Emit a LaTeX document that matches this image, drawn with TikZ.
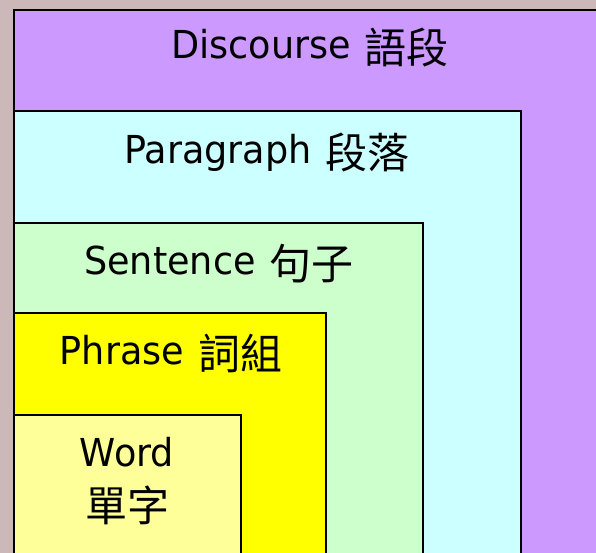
\documentclass[tikz,border=0pt]{standalone}
\usepackage{fontspec}
\setmainfont[FakeStretch=0.95]{DejaVu Sans}
\newfontfamily\cjk{Noto Sans CJK TC}
\definecolor{bgmarble}{RGB}{204,184,184}
\definecolor{discol}{RGB}{204,153,255}
\definecolor{paracol}{RGB}{204,255,255}
\definecolor{sentcol}{RGB}{204,255,204}
\definecolor{phrcol}{RGB}{255,255,0}
\definecolor{wordcol}{RGB}{255,255,153}
\newcommand{\zh}[1]{\raisebox{-5pt}{\cjk\fontsize{42}{46}\selectfont #1}}
\newcommand{\en}[1]{{\fontsize{38.5}{44}\selectfont #1}}
\newcommand{\gap}{\hspace{14pt}}
\begin{document}
\begin{tikzpicture}[x=1pt,y=-1pt,
  levelbox/.style={draw=black,line width=1.6pt},
  lbl/.style={anchor=base,inner sep=0pt,text=black}]
\useasboundingbox (0,0) rectangle (596,553);
\fill[bgmarble] (0,0) rectangle (596,553);
\clip (0,0) rectangle (596,553);
\path[levelbox,fill=discol] (14,10) rectangle (606,570);
\path[levelbox,fill=paracol] (14,111) rectangle (521,570);
\path[levelbox,fill=sentcol] (14,223) rectangle (423,570);
\path[levelbox,fill=phrcol] (14,313) rectangle (326,570);
\path[levelbox,fill=wordcol] (14,415) rectangle (241,570);
\node[lbl] (dis) at (310,59) {\en{Discourse}\gap\zh{語段}};
\node[lbl] (par) at (267,164) {\en{Paragraph}\gap\zh{段落}};
\node[lbl] (sen) at (219,274) {\en{Sentence}\gap\zh{句子}};
\node[lbl] (phr) at (171,364) {\en{Phrase}\gap\zh{詞組}};
\node[lbl] (wrd) at (127,466) {\en{Word}};
\node[lbl] (wzh) at (127,516) {\zh{單字}};
\end{tikzpicture}
\end{document}
